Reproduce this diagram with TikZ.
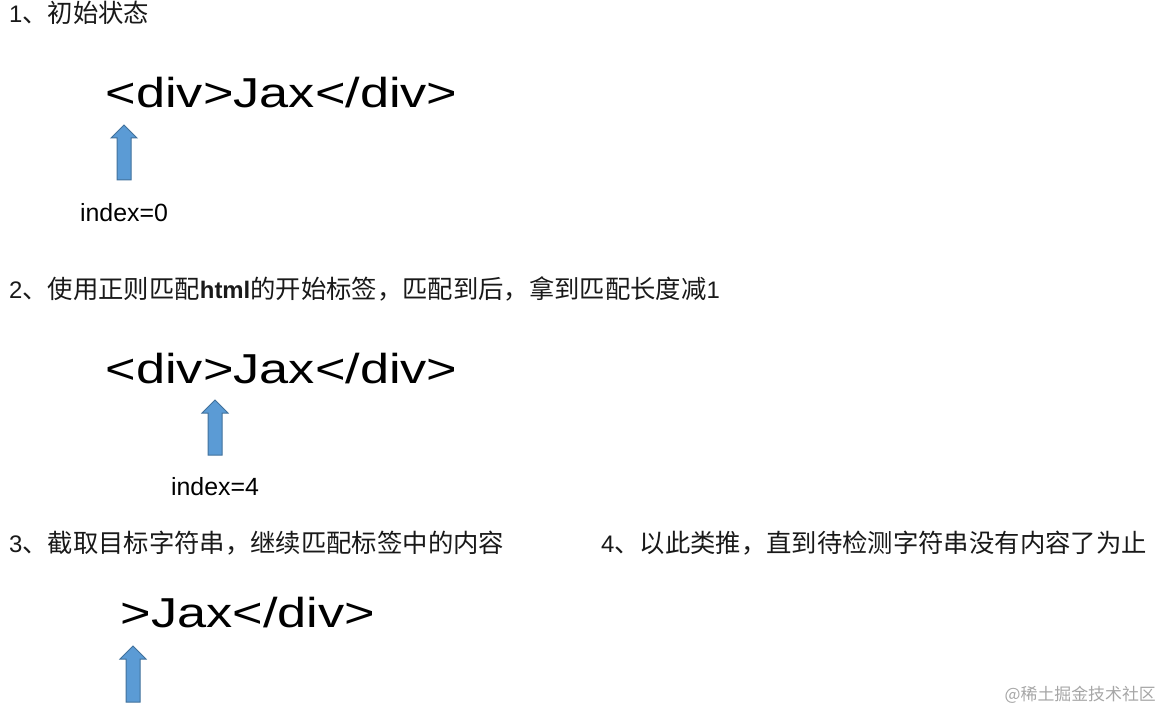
\documentclass[tikz,border=0pt]{standalone}
\usepackage{fontspec}
\setmainfont{Liberation Sans}
\newfontfamily\cjk[Scale=1.06]{Noto Sans CJK SC}
\newfontfamily\tagfont[FakeStretch=1.25]{Liberation Sans}
\definecolor{arrowfill}{HTML}{5B9BD5}
\definecolor{arrowline}{HTML}{41719C}
\tikzset{
  heading/.style={anchor=base west, inner sep=0pt, text=black!90, font=\fontsize{24}{28}\selectfont},
  tagtext/.style={anchor=base west, inner sep=0pt, font=\tagfont\fontsize{42}{48}\selectfont},
  idxlabel/.style={anchor=base, inner sep=0pt, font=\fontsize{25}{30}\selectfont},
  blockarrow/.style={fill=arrowfill, draw=arrowline, line width=1bp, line join=miter},
  watermark/.style={anchor=base east, inner sep=0pt, text=black!35, font=\cjk\fontsize{16}{18}\selectfont}
}
\begin{document}
\begin{tikzpicture}[x=1bp,y=-1bp]
\useasboundingbox (0,0) rectangle (1162,710);
% 1
\node[heading] (h1) at (9,23) {1\cjk 、初始状态};
\node[tagtext] (tag1) at (105.5,108) {<div>Jax</div>};
\node[idxlabel] (idx1) at (124,222) {index=0};
% 2
\node[heading] (h2) at (9,298) {2\cjk 、使用正则匹配\rmfamily\bfseries html\cjk\mdseries 的开始标签，匹配到后，拿到匹配长度减\rmfamily 1};
\node[tagtext] (tag2) at (105.5,383) {<div>Jax</div>};
\node[idxlabel] (idx2) at (215,495) {index=4};
% 3 and 4
\node[heading] (h3) at (9,552) {3\cjk 、截取目标字符串，继续匹配标签中的内容};
\node[heading] (h4) at (601,552) {4\cjk 、以此类推，直到待检测字符串没有内容了为止};
\node[tagtext] (tag3) at (120.5,627) {>Jax</div>};
% pointers
\foreach \x/\t/\b in {124/125/180, 215/400/455, 133/646/702}
  \draw[blockarrow] (\x,\t) -- (\x+13,\t+13) -- (\x+7,\t+13) -- (\x+7,\b)
    -- (\x-7,\b) -- (\x-7,\t+13) -- (\x-13,\t+13) -- cycle;
\node[watermark] (mark) at (1156,700) {@稀土掘金技术社区};
\end{tikzpicture}
\end{document}
